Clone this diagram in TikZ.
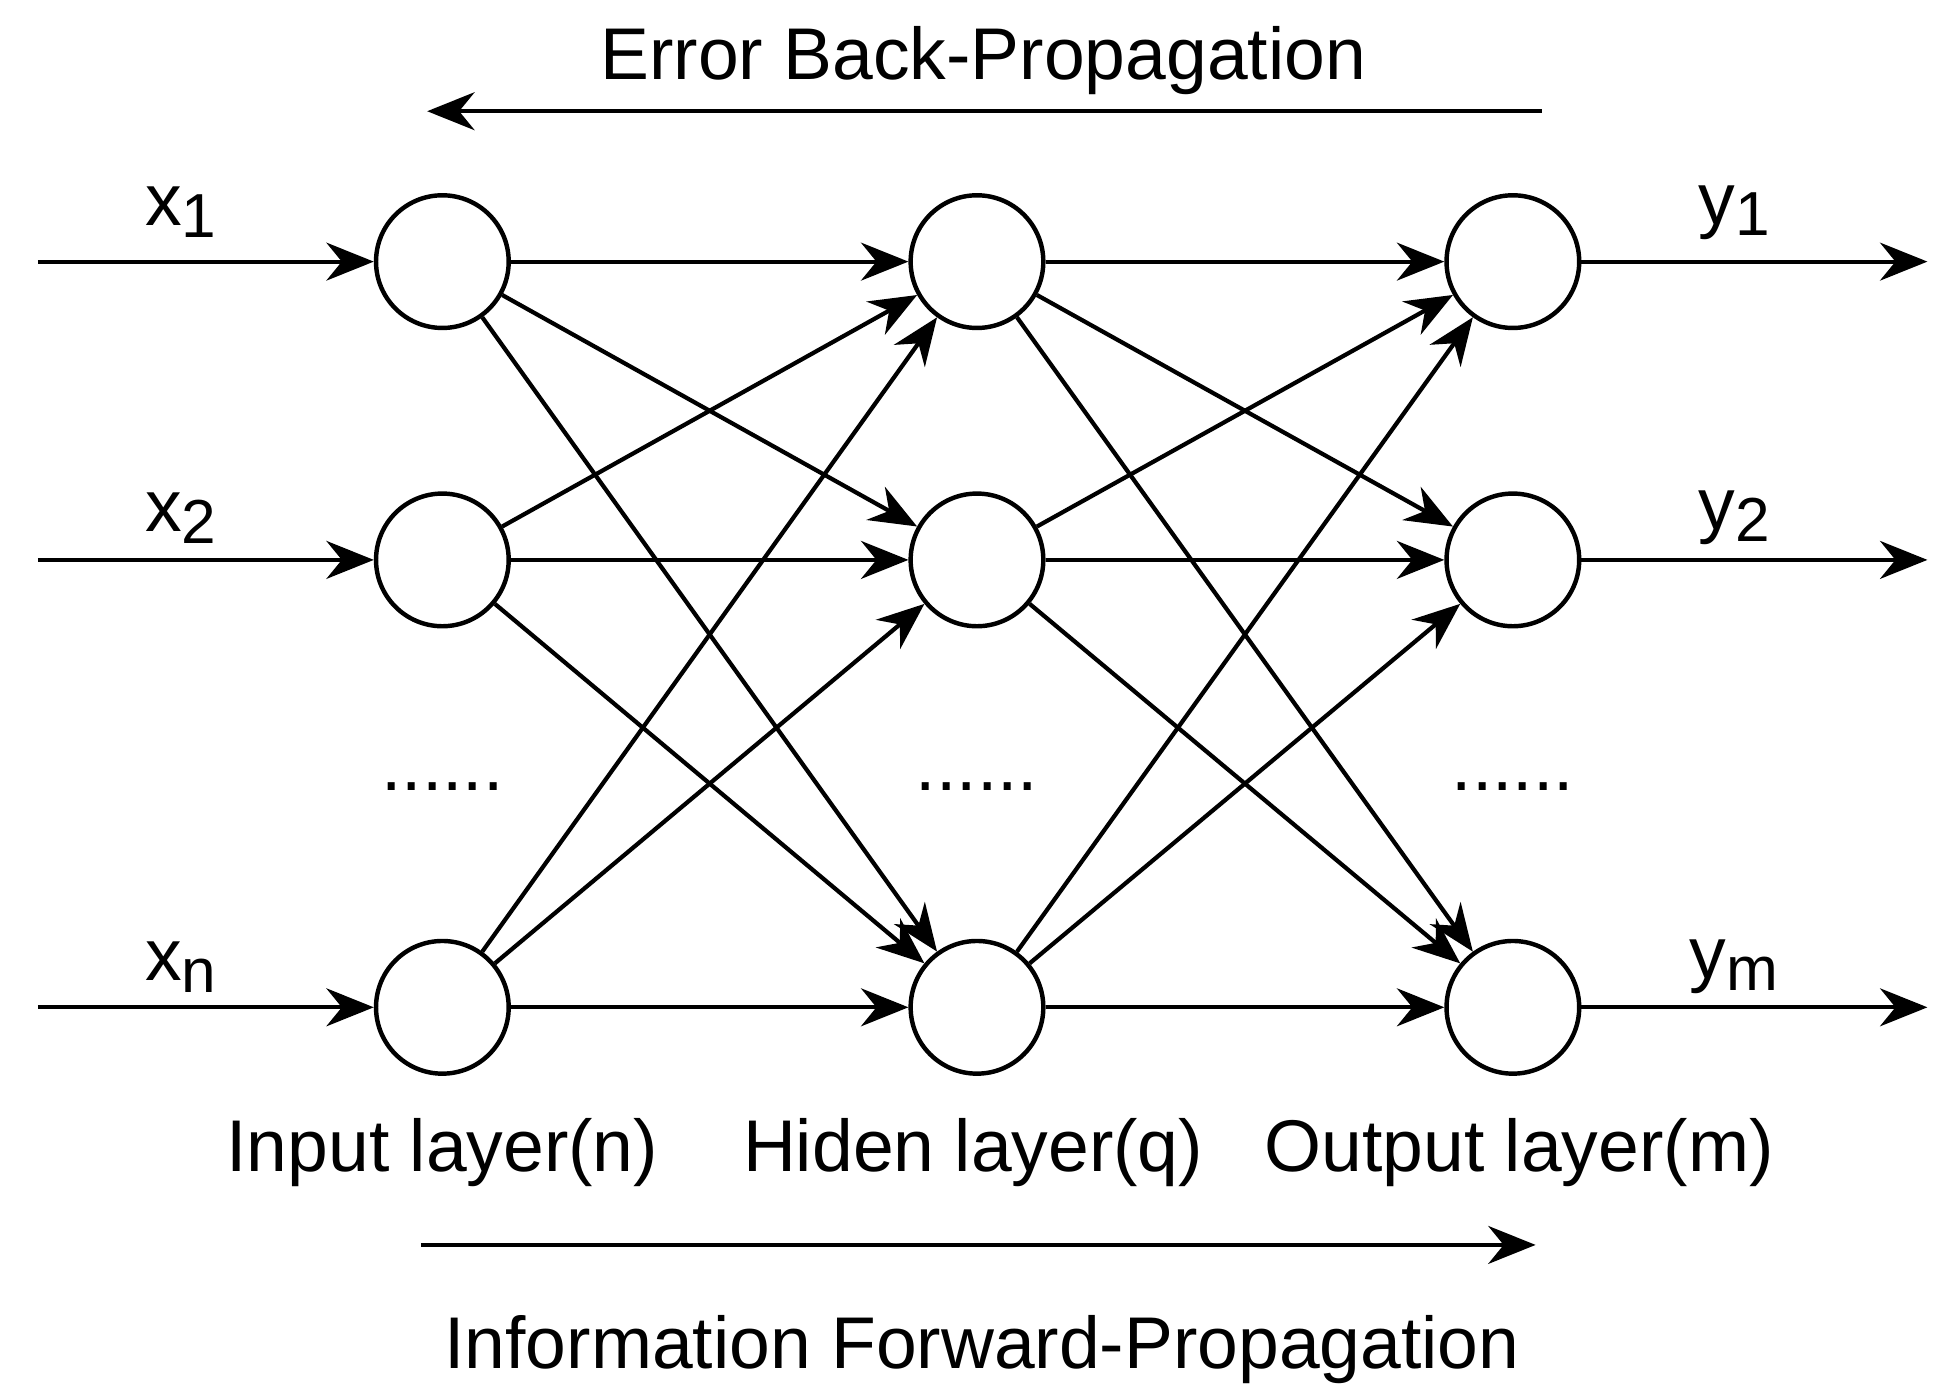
\documentclass[tikz,border=0pt]{standalone}
\usepackage{fontspec}
\setmainfont{Liberation Sans}
\usetikzlibrary{arrows.meta}
\newcommand{\mysub}[1]{\raisebox{-0.3ex}{\fontsize{28}{30}\selectfont #1}}
\begin{document}
\begin{tikzpicture}[x=0.02cm,y=-0.02cm,
  neu/.style={circle,draw,line width=2pt,minimum size=2.1cm,inner sep=0pt},
  con/.style={line width=1.9pt,-{Stealth[length=0.75cm,width=0.6cm]}},
  lbl/.style={font=\fontsize{33}{36}\selectfont}]
\useasboundingbox (0,0) rectangle (1550,1105);
\foreach \n/\x in {i/350,h/773,o/1197}{
  \node[neu] (\n1) at (\x,207) {};
  \node[neu] (\n2) at (\x,443) {};
  \node[neu] (\n3) at (\x,797) {};
  \node[lbl] (\n d) at (\x,622) {......};
}
\foreach \k/\y in {1/207,2/443,3/797}{
  \coordinate (in\k) at (30,\y);
  \coordinate (out\k) at (1525,\y);
  \draw[con] (in\k) -- (i\k);
  \draw[con] (o\k) -- (out\k);
  \foreach \j in {1,2,3}{
    \draw[con] (i\k) -- (h\j);
    \draw[con] (h\k) -- (o\j);
  }
}
\node[lbl] (x1) at (143,168) {x\mysub{1}};
\node[lbl] (x2) at (143,410) {x\mysub{2}};
\node[lbl] (xn) at (143,765) {x\mysub{n}};
\node[lbl] (y1) at (1372,168) {y\mysub{1}};
\node[lbl] (y2) at (1372,410) {y\mysub{2}};
\node[lbl] (ym) at (1372,765) {y\mysub{m}};
\node[lbl] (L1) at (350,912) {Input layer(n)};
\node[lbl] (L2) at (770,912) {Hiden layer(q)};
\node[lbl] (L3) at (1202,912) {Output layer(m)};
\node[lbl] (bt) at (778,48) {Error Back-Propagation};
\node[lbl] (ft) at (777,1068) {Information Forward-Propagation};
\coordinate (b1) at (1220,88); \coordinate (b2) at (338,88);
\coordinate (f1) at (333,985); \coordinate (f2) at (1215,985);
\draw[con] (b1) -- (b2);
\draw[con] (f1) -- (f2);
\end{tikzpicture}
\end{document}
